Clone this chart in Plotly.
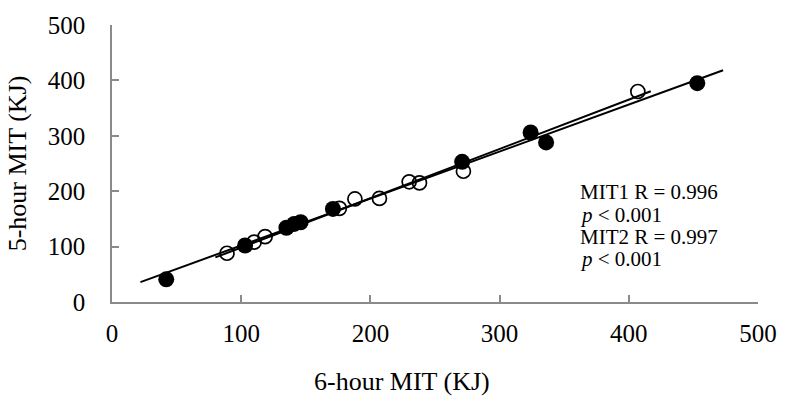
import numpy as np
import plotly.graph_objects as go

# MIT1 (filled circles)
mit1_6h = [42, 103, 135, 141, 146, 171, 271, 324, 336, 453]
mit1_5h = [41, 102, 134, 141, 144, 168, 253, 306, 288, 395]
# MIT2 (open circles)
mit2_6h = [89, 110, 118.5, 176, 188, 207, 230, 238, 272, 407]
mit2_5h = [88, 108, 118, 169, 186, 187, 217, 215, 236, 380]

# trendline extents (forecast range as drawn)
mit1_fit_x = [22, 473]
mit2_fit_x = [80, 417]

tick_vals = [0, 100, 200, 300, 400, 500]

FONT = "Liberation Serif"
AXIS_GRAY = "#8a8a8a"

def fit(xs, ys, xr):
    m, b = np.polyfit(xs, ys, 1)
    xr = np.array(xr, dtype=float)
    return xr, m * xr + b

fig = go.Figure()

fx1, fy1 = fit(mit1_6h, mit1_5h, mit1_fit_x)
fx2, fy2 = fit(mit2_6h, mit2_5h, mit2_fit_x)

fig.add_trace(go.Scatter(x=mit2_6h, y=mit2_5h, mode="markers", name="MIT2",
                         marker=dict(size=14, symbol="circle-open", color="black",
                                     line=dict(color="black", width=1.7)),
                         showlegend=False))
fig.add_trace(go.Scatter(x=mit1_6h, y=mit1_5h, mode="markers", name="MIT1",
                         marker=dict(size=16, color="black",
                                     line=dict(color="black", width=0)),
                         showlegend=False))
fig.add_trace(go.Scatter(x=fx1, y=fy1, mode="lines",
                         line=dict(color="black", width=2), showlegend=False))
fig.add_trace(go.Scatter(x=fx2, y=fy2, mode="lines",
                         line=dict(color="black", width=2), showlegend=False))

ann_lines = ["MIT1 R = 0.996", "<i>p</i> < 0.001", "MIT2 R = 0.997", "<i>p</i> < 0.001"]
ann_y = [199, 157, 118, 77]
for t, yy in zip(ann_lines, ann_y):
    fig.add_annotation(x=360.6, y=yy, xref="x", yref="y", text=t, showarrow=False,
                       xanchor="left", yanchor="middle",
                       font=dict(family=FONT, size=21, color="black"))

# x-axis title (placed left of centre, as in the original)
fig.add_annotation(x=0.449, y=-0.288, xref="paper", yref="paper",
                   text="6-hour MIT (KJ)", showarrow=False,
                   xanchor="center", yanchor="middle",
                   font=dict(family=FONT, size=26, color="black"))

fig.update_layout(
    width=789, height=401,
    margin=dict(l=112, r=24, t=21, b=99),
    paper_bgcolor="white", plot_bgcolor="white",
    font=dict(family=FONT, color="black"),
    xaxis=dict(range=[0, 500], tickvals=tick_vals, ticks="inside", ticklen=7,
               tickcolor=AXIS_GRAY, tickwidth=1.5, showline=True, linecolor=AXIS_GRAY,
               linewidth=1.5, showgrid=False, zeroline=False,
               tickfont=dict(family=FONT, size=25, color="black"),
               ticklabelstandoff=8),
    yaxis=dict(range=[0, 500], tickvals=tick_vals, ticks="inside", ticklen=7,
               tickcolor=AXIS_GRAY, tickwidth=1.5, showline=True, linecolor=AXIS_GRAY,
               linewidth=1.5, showgrid=False, zeroline=False,
               tickfont=dict(family=FONT, size=25, color="black"),
               ticklabelstandoff=20,
               title=dict(text="5-hour MIT (KJ)", font=dict(family=FONT, size=26, color="black"),
                          standoff=14)),
)

fig.write_html("out.html")
